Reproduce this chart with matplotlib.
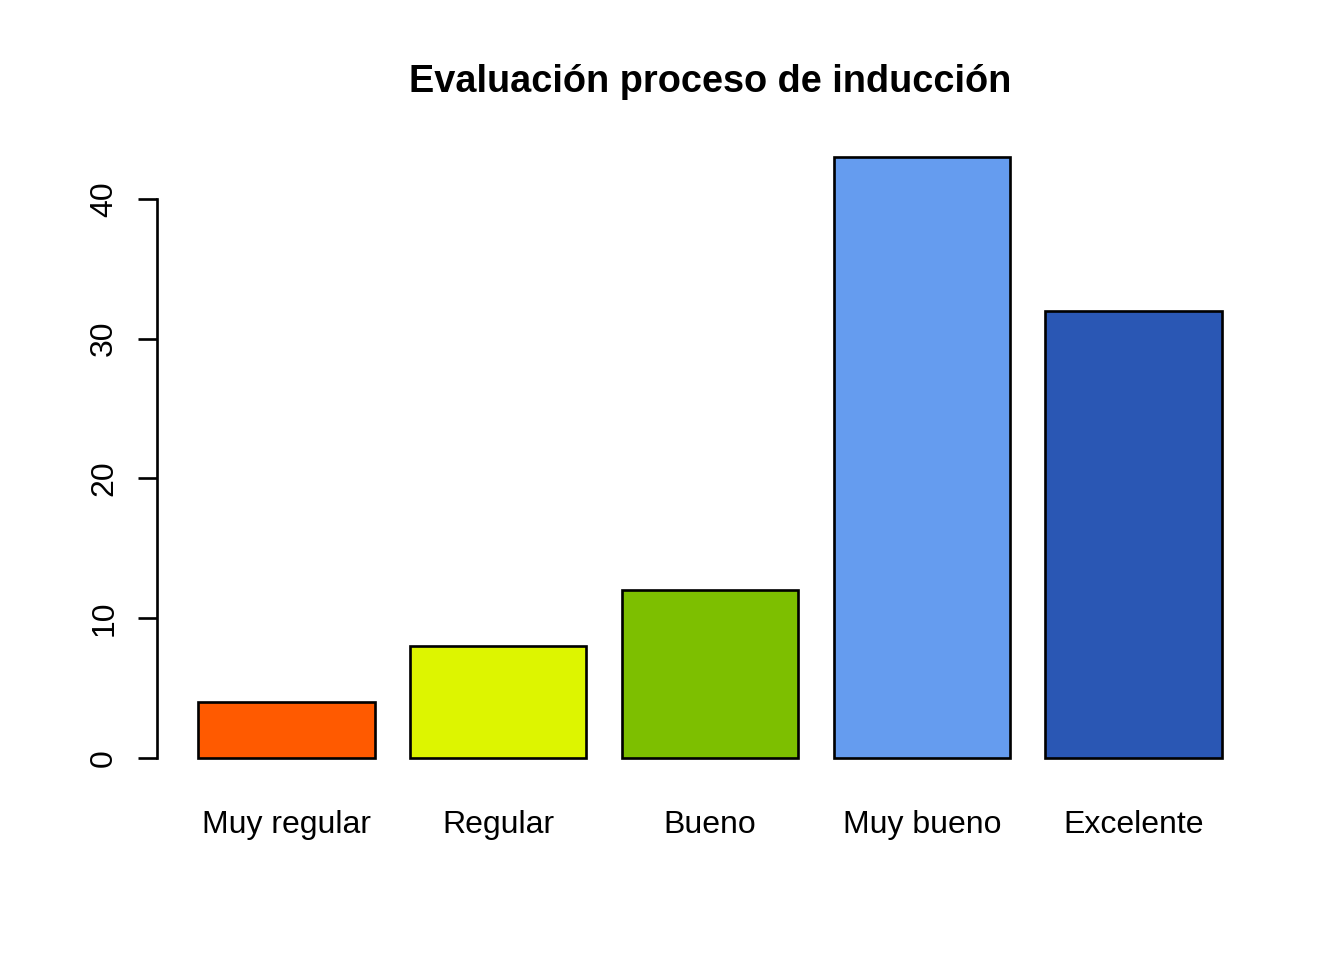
import matplotlib
matplotlib.use("Agg")
import matplotlib.pyplot as plt
from matplotlib.transforms import blended_transform_factory

plt.rcParams['font.family'] = ['Liberation Sans', 'DejaVu Sans']

# Data
categorias = ["Muy regular", "Regular", "Bueno", "Muy bueno", "Excelente"]
valores = [4, 8, 12, 43, 32]
colores = ["#FF5A00", "#DDF500", "#7DBF00", "#659CEF", "#2A57B4"]
y_ticks = [0, 10, 20, 30, 40]

fig = plt.figure(figsize=(7, 5), dpi=192)
ax = fig.add_axes([157 / 1344, 1 - 782 / 960, (1263 - 157) / 1344, (782 - 133) / 960])

# barplot style: width 1, space 0.2
centros = [0.2 + 0.5 + i * 1.2 for i in range(len(valores))]
ax.bar(centros, valores, width=1.0, color=colores, edgecolor="black", linewidth=1.0)

ax.set_xlim(0.2 - 0.232, 6.0 + 0.232)
ax.set_ylim(-0.04 * 43, 43 * 1.04)

for s in ["top", "right", "bottom"]:
    ax.spines[s].set_visible(False)
ax.spines["left"].set_bounds(0, 40)
ax.spines["left"].set_linewidth(1.0)

ax.set_yticks(y_ticks)
ax.set_yticklabels([str(t) for t in y_ticks], rotation=90, va="center", fontsize=12)
ax.tick_params(axis="y", length=7.2, width=1.0, pad=7)

ax.set_xticks([])
trans = blended_transform_factory(ax.transData, fig.transFigure)
for c, lab in zip(centros, categorias):
    ax.text(c, 1 - 825 / 960, lab, transform=trans, ha="center", va="center", fontsize=12)

fig.text((157 + 1263) / 2 / 1344, 1 - 82 / 960, "Evaluación proceso de inducción",
         ha="center", va="center", fontsize=14.2, fontweight="bold")

fig.savefig("out.png", dpi=192)
